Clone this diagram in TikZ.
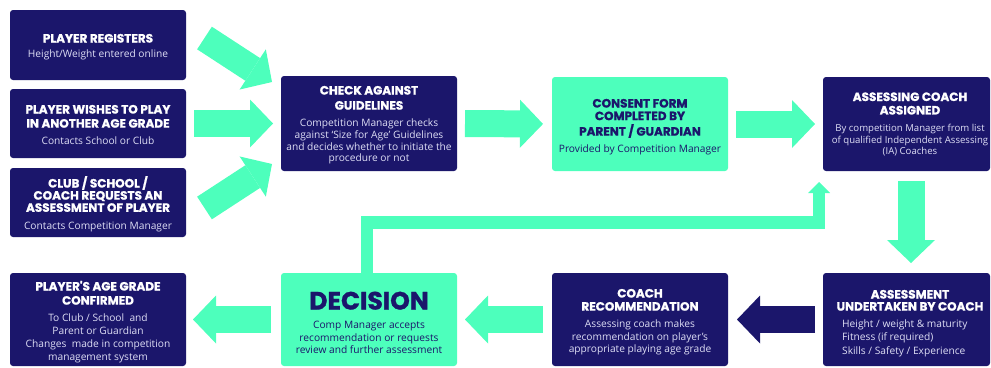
\documentclass[tikz,border=0pt]{standalone}
\usepackage{fontspec}
\setmainfont{Open Sans}
\newfontfamily\ttlfont{Poppins}[BoldFeatures={FakeBold=1.2}]
\usetikzlibrary{arrows.meta}
\definecolor{navy}{RGB}{27,22,107}
\definecolor{mint}{RGB}{77,255,188}
\definecolor{subw}{RGB}{222,222,245}
\newcommand\TT{\ttlfont\bfseries\fontsize{12}{12}\selectfont}
\newcommand\TW{\color{white}\TT}
\tikzset{
  x=1pt, y=-1pt,
  box/.style={rounded corners=3pt, minimum width=176pt, inner sep=0pt, outer sep=0pt},
  navybox/.style={box, fill=navy},
  mintbox/.style={box, fill=mint},
  txt/.style={inner sep=0pt, anchor=base, font=\fontsize{10.2}{12}\selectfont, text=subw, align=center},
  mtxt/.style={txt, text=navy},
  fat/.style={draw=mint, line width=27pt, -{Triangle[width=48pt,length=23pt,line width=0pt]}},
  fatnavy/.style={fat, draw=navy},
  slim/.style={draw=mint, line width=12.5pt, line join=miter, -{Triangle[width=22pt,length=11pt,line width=0pt]}}
}
\begin{document}
\begin{tikzpicture}
\useasboundingbox (0,0) rectangle (991,367);
\clip (0,0) rectangle (991,367);
% boxes
\node[navybox, minimum height=70pt] (reg) at (98,45) {};
\node[navybox, minimum height=69pt] (wish) at (98,123.5) {};
\node[navybox, minimum height=69pt] (club) at (98,202.5) {};
\node[navybox, minimum height=95pt] (chk) at (369,123.5) {};
\node[mintbox, minimum height=94pt] (cons) at (640,124) {};
\node[navybox, minimum width=167pt, minimum height=94pt] (asg) at (906.5,124) {};
\node[navybox, minimum height=93pt] (fin) at (98,319.5) {};
\node[mintbox, minimum height=93pt] (dec) at (369,319.5) {};
\node[navybox, minimum height=93pt] (rec) at (640,319.5) {};
\node[navybox, minimum width=167pt, minimum height=93pt] (ass) at (906.5,319.5) {};
% texts
\node[txt] (regT) at (98,42.5) {\begin{tabular}[t]{@{}c@{}}\TW PLAYER REGISTERS\\[2.5pt] Height/Weight entered online\end{tabular}};
\node[txt] (wishT) at (98,113.5) {\begin{tabular}[t]{@{}c@{}}\TW PLAYER WISHES TO PLAY\\[2pt]\TW IN ANOTHER AGE GRADE\\[5pt] Contacts School or Club\end{tabular}};
\node[txt] (clubT) at (98,187.5) {\begin{tabular}[t]{@{}c@{}}\TW CLUB / SCHOOL /\\[0pt]\TW COACH REQUESTS AN\\[0pt]\TW ASSESSMENT OF PLAYER\\[6pt] Contacts Competition Manager\end{tabular}};
\node[txt] (chkT) at (369,94.5) {\begin{tabular}[t]{@{}c@{}}\TW CHECK AGAINST\\[3pt]\TW GUIDELINES\\[5pt] Competition Manager checks\\[-0.3pt] against `Size for Age' Guidelines\\[-0.3pt] and decides whether to initiate the\\[-0.3pt] procedure or not\end{tabular}};
\node[mtxt] (consT) at (640,107.5) {\begin{tabular}[t]{@{}c@{}}\TT CONSENT FORM\\[0.5pt]\TT COMPLETED BY\\[0.5pt]\TT PARENT / GUARDIAN\\[5pt] Provided by Competition Manager\end{tabular}};
\node[txt] (asgT) at (910,101) {\begin{tabular}[t]{@{}c@{}}\TW ASSESSING COACH\\[1.3pt]\TW ASSIGNED\\[5pt] {\fontsize{9.6}{12}\selectfont By competition Manager from list}\\[-0.4pt] {\fontsize{9.6}{12}\selectfont of qualified Independent Assessing}\\[-0.4pt] {\fontsize{9.6}{12}\selectfont (IA) Coaches}\end{tabular}};
\node[txt] (finT) at (98,290.5) {\begin{tabular}[t]{@{}c@{}}\TW PLAYER'S AGE GRADE\\[2pt]\TW CONFIRMED\\[4.5pt] To Club / School\ \ and\\[1pt] Parent or Guardian\\[1pt] Changes\ \ made in competition\\[1pt] management system\end{tabular}};
\node[mtxt] (decT) at (369,309.5) {\begin{tabular}[t]{@{}c@{}}{\ttlfont\bfseries\fontsize{25}{25}\selectfont DECISION}\\[7pt] Comp Manager accepts\\[0.5pt] recommendation or requests\\[0.5pt] review and further assessment\end{tabular}};
\node[txt] (recT) at (640,297.5) {\begin{tabular}[t]{@{}c@{}}\TW COACH\\[1pt]\TW RECOMMENDATION\\[5pt] Assessing coach makes\\[0.5pt] recommendation on player's\\[0.5pt] appropriate playing age grade\end{tabular}};
\node[txt] (assT) at (910,298.5) {\begin{tabular}[t]{@{}c@{}}\TW ASSESSMENT\\[0pt]\TW UNDERTAKEN BY COACH\end{tabular}};
\node[txt, anchor=base west, align=left] (assS) at (842,327) {\begin{tabular}[t]{@{}l@{}}Height / weight \& maturity\\[1.5pt] Fitness (if required)\\[1.5pt] Skills / Safety / Experience\end{tabular}};
% connectors
\coordinate (d1s) at (204.5,38);
\coordinate (d1e) at (272,82);
\coordinate (d3s) at (204.5,208);
\coordinate (d3e) at (272,164);
\draw[fat] (d1s) -- (d1e);
\draw[fat] (d3s) -- (d3e);
\draw[fat, shorten <=8pt, shorten >=8pt] (wish.east) -- (chk.west);
\draw[fat, shorten <=8pt, shorten >=9pt] (chk.east) -- (cons.west);
\draw[fat, shorten <=8pt, shorten >=8pt] (cons.east) -- (asg.west);
\draw[fat, shorten <=10pt, shorten >=10pt] ([xshift=4.5pt]asg.south) -- ([xshift=4.5pt]ass.north);
\draw[fatnavy, shorten <=8pt, shorten >=9pt] (ass.west) -- (rec.east);
\draw[fat, shorten <=9pt, shorten >=8pt] (rec.west) -- (dec.east);
\draw[fat, shorten <=10pt, shorten >=7pt] (dec.west) -- (fin.east);
\draw[slim, shorten >=11pt] ([xshift=-2pt]dec.north) -- ++(0,-50.5) -| ([xshift=-87.5pt]asg.south);
\end{tikzpicture}
\end{document}
